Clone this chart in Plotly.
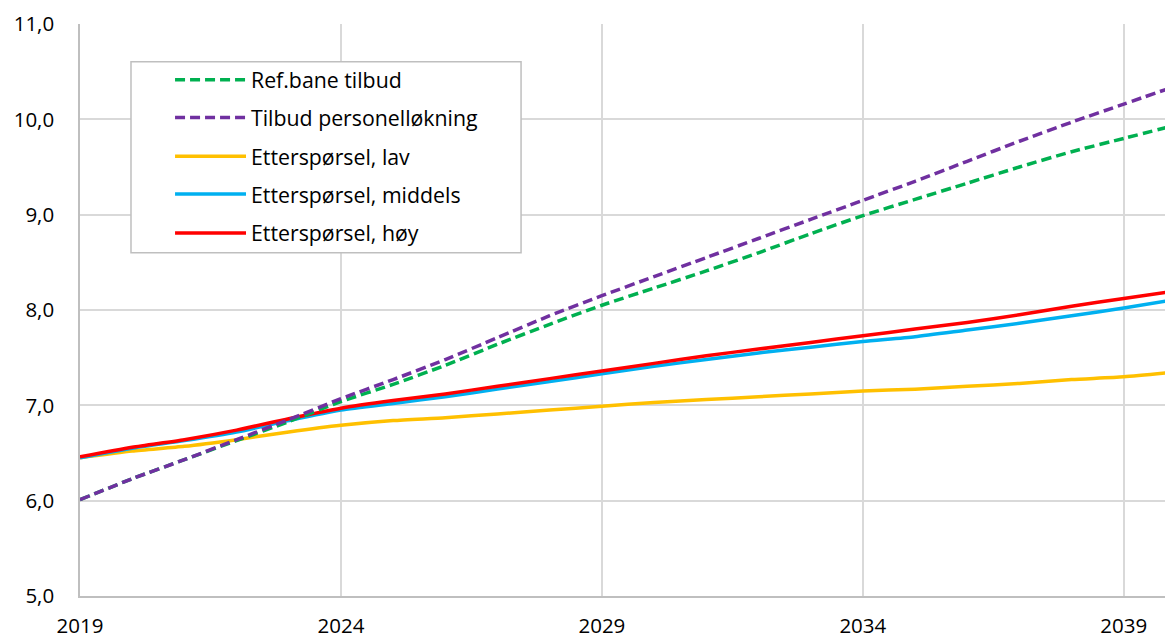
import plotly.graph_objects as go

years = list(range(2019, 2041))

ref_tilbud = [6.01, 6.23, 6.43, 6.63, 6.83, 7.04, 7.22, 7.42, 7.64, 7.85, 8.05,
              8.23, 8.41, 8.60, 8.80, 8.99, 9.16, 9.33, 9.50, 9.66, 9.80, 9.94]
tilbud_personell = [6.01, 6.23, 6.43, 6.64, 6.85, 7.07, 7.27, 7.48, 7.71, 7.94, 8.15,
                    8.35, 8.55, 8.75, 8.95, 9.15, 9.35, 9.56, 9.77, 9.97, 10.16, 10.35]
ettersporsel_lav = [6.45, 6.52, 6.57, 6.64, 6.72, 6.79, 6.84, 6.87, 6.91, 6.95, 6.99,
                    7.03, 7.06, 7.09, 7.12, 7.15, 7.17, 7.20, 7.23, 7.27, 7.30, 7.35]
ettersporsel_middels = [6.45, 6.55, 6.63, 6.72, 6.84, 6.95, 7.02, 7.09, 7.17, 7.25, 7.33,
                        7.41, 7.48, 7.55, 7.61, 7.67, 7.72, 7.79, 7.86, 7.94, 8.02, 8.11]
ettersporsel_hoy = [6.46, 6.56, 6.64, 6.74, 6.86, 6.97, 7.05, 7.12, 7.20, 7.28, 7.36,
                    7.44, 7.52, 7.59, 7.66, 7.73, 7.80, 7.87, 7.95, 8.04, 8.12, 8.20]

series = [
    ("Ref.bane tilbud", ref_tilbud, "#00B050", "10px,5px"),
    ("Tilbud personelløkning", tilbud_personell, "#7030A0", "10px,5px"),
    ("Etterspørsel, lav", ettersporsel_lav, "#FFC000", "solid"),
    ("Etterspørsel, middels", ettersporsel_middels, "#00B0F0", "solid"),
    ("Etterspørsel, høy", ettersporsel_hoy, "#FF0000", "solid"),
]

fig = go.Figure()

# demand lines first, then the dashed supply lines (purple over green as in the original)
for name, values, color, dash in [series[2], series[3], series[4], series[0], series[1]]:
    fig.add_trace(go.Scatter(x=years, y=values, name=name, mode="lines",
                             line=dict(color=color, width=3.5, dash=dash,
                                       shape="spline", smoothing=0.6),
                             showlegend=False))

# hand-made legend box (paper coords of the plot area)
fig.add_shape(type="rect", xref="paper", yref="paper",
              x0=0.047, x1=0.4065, y0=0.600, y1=0.934,
              line=dict(color="#BFBFBF", width=1.5), fillcolor="white", layer="above")

legend_y = [0.9026, 0.8365, 0.7687, 0.7026, 0.6348]
for (name, values, color, dash), ly in zip(series, legend_y):
    fig.add_shape(type="line", xref="paper", yref="paper",
                  x0=0.0876, x1=0.153, y0=ly, y1=ly,
                  line=dict(color=color, width=3.5, dash=dash), layer="above")
    fig.add_annotation(xref="paper", yref="paper", x=0.1555, y=ly, text=name,
                       showarrow=False, xanchor="left", yanchor="middle",
                       font=dict(size=21.3, color="black"))

fig.update_xaxes(range=[2019, 2039.79], tick0=2019, dtick=5,
                 showgrid=True, gridcolor="#D9D9D9", gridwidth=1.5,
                 showline=True, linecolor="#BFBFBF", linewidth=1.5,
                 zeroline=False, ticks="", ticklabelstandoff=11,
                 tickfont=dict(size=20.5, color="black"))
fig.update_yaxes(range=[5, 11], dtick=1, tickformat=".1f",
                 showgrid=True, gridcolor="#D9D9D9", gridwidth=1.5,
                 showline=True, linecolor="#BFBFBF", linewidth=1.5,
                 zeroline=False, ticks="", ticklabelstandoff=20,
                 tickfont=dict(size=20.5, color="black"))

fig.update_layout(
    width=1165, height=639,
    margin=dict(l=80, r=0, t=24, b=40),
    paper_bgcolor="white",
    plot_bgcolor="white",
    separators=", ",
    font=dict(family="Open Sans", size=20, color="black"),
)

# drop the default page margin so the figure fills the window exactly
fig.write_html("out.html",
               config={"displayModeBar": False},
               post_script="document.body.style.margin='0';"
                           "document.body.style.overflow='hidden';")
